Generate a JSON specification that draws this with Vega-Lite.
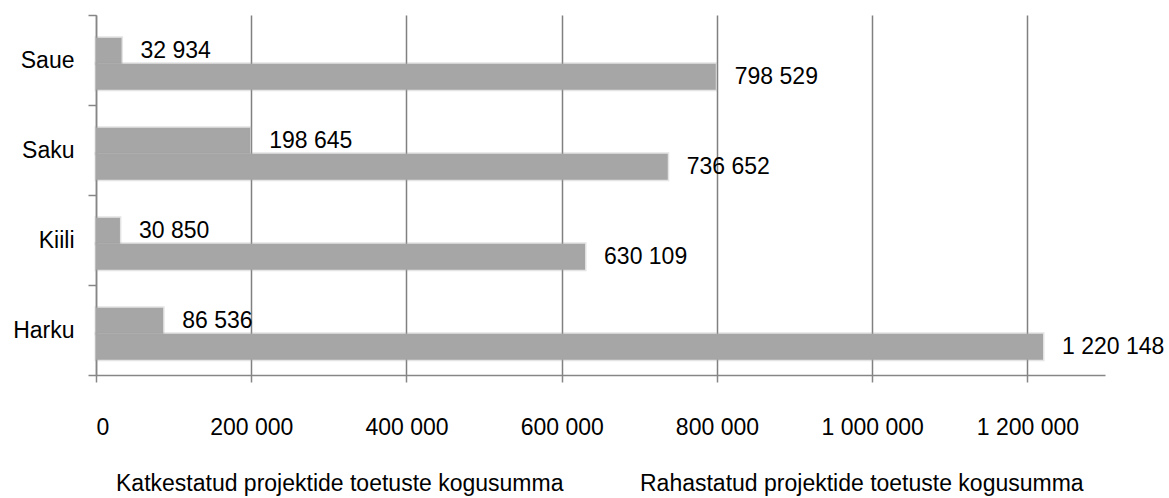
{
  "$schema": "https://vega.github.io/schema/vega-lite/v6.json",
  "width": 1009,
  "height": 360,
  "autosize": {"type": "none"},
  "padding": {"left": 96, "top": 15, "right": 64, "bottom": 123},
  "background": "white",
  "config": {
    "locale": {"number": {"decimal": ",", "thousands": " ", "grouping": [3], "currency": ["", ""]}},
    "font": "Liberation Sans",
    "view": {"stroke": null}
  },
  "data": {
    "values": [
      {"vald": "Saue", "seeria": "Katkestatud projektide toetuste kogusumma", "summa": 32934},
      {"vald": "Saue", "seeria": "Rahastatud projektide toetuste kogusumma", "summa": 798529},
      {"vald": "Saku", "seeria": "Katkestatud projektide toetuste kogusumma", "summa": 198645},
      {"vald": "Saku", "seeria": "Rahastatud projektide toetuste kogusumma", "summa": 736652},
      {"vald": "Kiili", "seeria": "Katkestatud projektide toetuste kogusumma", "summa": 30850},
      {"vald": "Kiili", "seeria": "Rahastatud projektide toetuste kogusumma", "summa": 630109},
      {"vald": "Harku", "seeria": "Katkestatud projektide toetuste kogusumma", "summa": 86536},
      {"vald": "Harku", "seeria": "Rahastatud projektide toetuste kogusumma", "summa": 1220148}
    ]
  },
  "encoding": {
    "y": {
      "field": "vald", "type": "nominal",
      "sort": ["Saue", "Saku", "Kiili", "Harku"],
      "scale": {"paddingInner": 0, "paddingOuter": 0},
      "axis": {
        "title": null, "tickBand": "extent", "domainColor": "#868686", "domainWidth": 1.5,
        "tickColor": "#868686", "tickWidth": 1.5, "tickSize": 8,
        "labelFontSize": 23, "labelColor": "black", "labelPadding": 14, "labelFont": "Liberation Sans"
      }
    },
    "yOffset": {
      "field": "seeria", "type": "nominal",
      "scale": {"paddingInner": 0, "paddingOuter": 0.73, "align": 0.6}
    },
    "x": {
      "field": "summa", "type": "quantitative",
      "scale": {"domain": [0, 1300000], "nice": false},
      "axis": {
        "title": null, "values": [0, 200000, 400000, 600000, 800000, 1000000, 1200000],
        "format": ",d", "grid": true, "gridColor": "#808080", "gridWidth": 1.5,
        "domainColor": "#868686", "domainWidth": 1.5, "tickColor": "#868686", "tickWidth": 1.5,
        "tickSize": 7, "labelFontSize": 23, "labelColor": "black", "labelPadding": 34,
        "labelFont": "Liberation Sans"
      }
    }
  },
  "layer": [
    {
      "mark": {"type": "bar", "stroke": "#a6a6a6", "strokeOpacity": 0.3, "strokeWidth": 3},
      "encoding": {
        "color": {
          "field": "seeria", "type": "nominal",
          "scale": {"range": ["#a6a6a6", "#a6a6a6"]},
          "legend": {
            "title": null, "orient": "none", "legendX": -3, "legendY": 457,
            "direction": "horizontal", "symbolOpacity": 0, "symbolSize": 0,
            "symbolStrokeWidth": 0, "labelOffset": 0, "columnPadding": 53, "labelLimit": 600,
            "labelFontSize": 23, "labelColor": "black", "labelFont": "Liberation Sans"
          }
        }
      }
    },
    {
      "mark": {"type": "text", "align": "left", "dx": 19, "fontSize": 23, "color": "black", "font": "Liberation Sans"},
      "encoding": {
        "text": {"field": "summa", "type": "quantitative", "format": ",d"}
      }
    }
  ]
}
